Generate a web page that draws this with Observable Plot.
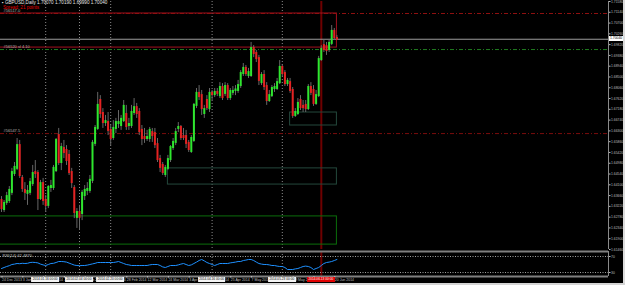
<!DOCTYPE html>
<html><head><meta charset="utf-8">
<script src="https://cdn.jsdelivr.net/npm/d3@7"></script>
<script src="https://cdn.jsdelivr.net/npm/@observablehq/plot@0.6"></script>
<style>
html,body{margin:0;padding:0;background:#000;}
#wrap{position:relative;width:625px;height:285px;background:#000;overflow:hidden;font-family:"Liberation Sans",sans-serif;}
#wrap svg{display:block;}
.ov{position:absolute;white-space:nowrap;line-height:1;}
</style></head><body><div id="wrap"></div>
<script>
// ---------- data ----------
const symbolTitle = "GBPUSD,Daily";
const spreadText = "Spread: 21 points";
const opens = [1.6346,1.6309,1.6338,1.6346,1.6379,1.6456,1.6477,1.6570,1.6436,1.6387,
1.6375,1.6379,1.6415,1.6460,1.6456,1.6354,1.6415,1.6346,1.6326,1.6399,
1.6399,1.6468,1.6611,1.6501,1.6558,1.6550,1.6530,1.6460,1.6395,1.6277,
1.6297,1.6293,1.6366,1.6387,1.6387,1.6428,1.6579,1.6640,1.6754,1.6701,
1.6664,1.6664,1.6632,1.6603,1.6640,1.6660,1.6652,1.6672,1.6697,1.6652,
1.6652,1.6705,1.6725,1.6705,1.6632,1.6603,1.6599,1.6599,1.6623,1.6619,
1.6574,1.6513,1.6489,1.6452,1.6477,1.6513,1.6562,1.6583,1.6640,1.6644,
1.6607,1.6607,1.6579,1.6546,1.6591,1.6734,1.6783,1.6774,1.6701,1.6754,
1.6721,1.6783,1.6778,1.6787,1.6774,1.6807,1.6783,1.6811,1.6766,1.6787,
1.6795,1.6795,1.6815,1.6864,1.6885,1.6856,1.6856,1.6966,1.6946,1.6925,
1.6827,1.6856,1.6811,1.6754,1.6774,1.6803,1.6803,1.6827,1.6889,1.6864,
1.6823,1.6827,1.6795,1.6693,1.6701,1.6754,1.6730,1.6734,1.6721,1.6807,
1.6795,1.6742,1.6774,1.6921,1.6978,1.6974,1.6962,1.6987,1.7036,1.7007];
const highs = [1.6362,1.6346,1.6379,1.6403,1.6477,1.6501,1.6599,1.6591,1.6448,1.6419,
1.6407,1.6436,1.6489,1.6509,1.6468,1.6428,1.6436,1.6366,1.6407,1.6428,
1.6489,1.6599,1.6640,1.6579,1.6591,1.6570,1.6550,1.6477,1.6407,1.6313,
1.6326,1.6387,1.6407,1.6419,1.6448,1.6591,1.6652,1.6787,1.6774,1.6721,
1.6693,1.6705,1.6652,1.6672,1.6681,1.6713,1.6693,1.6754,1.6734,1.6681,
1.6734,1.6762,1.6742,1.6721,1.6652,1.6640,1.6632,1.6644,1.6640,1.6640,
1.6599,1.6530,1.6501,1.6489,1.6530,1.6570,1.6599,1.6640,1.6664,1.6652,
1.6640,1.6632,1.6591,1.6611,1.6742,1.6803,1.6815,1.6795,1.6734,1.6774,
1.6803,1.6795,1.6803,1.6803,1.6827,1.6823,1.6827,1.6823,1.6803,1.6811,
1.6815,1.6836,1.6876,1.6905,1.6897,1.6885,1.6991,1.6978,1.6958,1.6938,
1.6868,1.6876,1.6827,1.6795,1.6815,1.6823,1.6844,1.6917,1.6901,1.6876,
1.6844,1.6844,1.6807,1.6721,1.6762,1.6774,1.6754,1.6754,1.6819,1.6827,
1.6815,1.6795,1.6934,1.6978,1.6999,1.6991,1.6999,1.7060,1.7048,1.7019];
const lows = [1.6297,1.6297,1.6326,1.6334,1.6366,1.6444,1.6468,1.6436,1.6379,1.6346,
1.6326,1.6366,1.6403,1.6436,1.6305,1.6346,1.6326,1.6297,1.6313,1.6379,
1.6387,1.6460,1.6489,1.6468,1.6517,1.6489,1.6448,1.6395,1.6272,1.6232,
1.6224,1.6264,1.6346,1.6366,1.6375,1.6415,1.6566,1.6632,1.6681,1.6640,
1.6648,1.6611,1.6570,1.6591,1.6619,1.6640,1.6632,1.6664,1.6632,1.6632,
1.6640,1.6693,1.6681,1.6611,1.6570,1.6579,1.6587,1.6583,1.6583,1.6558,
1.6501,1.6460,1.6448,1.6440,1.6468,1.6501,1.6550,1.6570,1.6623,1.6591,
1.6591,1.6558,1.6542,1.6538,1.6583,1.6721,1.6754,1.6693,1.6681,1.6713,
1.6705,1.6754,1.6766,1.6770,1.6762,1.6754,1.6770,1.6754,1.6754,1.6774,
1.6774,1.6783,1.6803,1.6852,1.6852,1.6844,1.6848,1.6929,1.6909,1.6815,
1.6815,1.6795,1.6734,1.6746,1.6766,1.6787,1.6795,1.6819,1.6852,1.6811,
1.6811,1.6783,1.6681,1.6685,1.6693,1.6713,1.6705,1.6705,1.6713,1.6774,
1.6730,1.6734,1.6766,1.6913,1.6950,1.6938,1.6950,1.6978,1.6999,1.6999];
const closes = [1.6313,1.6334,1.6362,1.6387,1.6460,1.6481,1.6570,1.6448,1.6395,1.6379,
1.6383,1.6419,1.6456,1.6456,1.6354,1.6415,1.6346,1.6326,1.6399,1.6403,
1.6477,1.6591,1.6501,1.6562,1.6542,1.6509,1.6460,1.6419,1.6297,1.6297,
1.6277,1.6375,1.6387,1.6391,1.6428,1.6579,1.6640,1.6734,1.6701,1.6664,
1.6668,1.6632,1.6599,1.6640,1.6664,1.6664,1.6677,1.6730,1.6648,1.6656,
1.6705,1.6725,1.6701,1.6627,1.6599,1.6599,1.6603,1.6632,1.6611,1.6574,
1.6513,1.6481,1.6460,1.6477,1.6513,1.6562,1.6583,1.6623,1.6644,1.6603,
1.6603,1.6579,1.6554,1.6599,1.6734,1.6783,1.6770,1.6721,1.6717,1.6725,
1.6783,1.6778,1.6787,1.6783,1.6807,1.6766,1.6811,1.6766,1.6791,1.6791,
1.6797,1.6815,1.6864,1.6885,1.6864,1.6868,1.6966,1.6946,1.6925,1.6836,
1.6856,1.6811,1.6754,1.6774,1.6803,1.6807,1.6827,1.6889,1.6864,1.6823,
1.6832,1.6795,1.6693,1.6705,1.6742,1.6725,1.6725,1.6721,1.6807,1.6787,
1.6742,1.6774,1.6921,1.6962,1.6962,1.6958,1.6987,1.7036,1.7011,1.7004];
const rsi = [40,42.5,45,47,50,51,52.5,52,53,52.5,
53,55,55.5,55,54,51,49,47.5,50,52.5,
53,55,57.5,57.5,57,56,53.5,51,48.5,47.5,
47,47.5,47.5,48.5,50,51.5,53,55,55,55,
55,55,55,55,56,57.5,55,52.5,50,49,
47.5,47.5,47.5,47.5,47.5,47.5,47.5,49,50,50,
50,47.5,44,42.5,45,47.5,47.5,47.5,49,51,
52.5,50,47.5,49,52.5,56,60,62.5,59,55,
52.5,50,47.5,50,52.5,52.5,52.5,52.5,54,55,
56,57.5,57.5,60,61,62.5,62.5,60,56,52.5,
51,50,50,49,47.5,47.5,46,45,45,42.5,
37.5,37.5,37.5,39,40,42.5,45,46,45,42.5,
37.5,40,42.5,47.5,52.5,55,56,57.5,60,62.5];
const rsiLabel = "RSI(14) 62.4870";
const rsiLevels = [70, 30];
const rsiDomain = [20, 82.5];
const priceDomain = [1.6146, 1.7158];
const priceTicks = [1.71580,1.71140,1.70700,1.70260,1.69820,1.69380,1.68940,1.68500,1.68060,1.67620,
1.67180,1.66740,1.66300,1.65860,1.65420,1.64980,1.64540,1.64100,1.63660,1.63220,1.62780,1.62340,1.61900,1.61460];
const timeTickIdx = [0,8,16,24,32,40,48,56,64,72,80,88,96,104,112,120,128];
const timeTickLabels = ["24 Dec 2013","3 Jan 2014","15 Jan 2014","27 Jan 2014","6 Feb 2014","18 Feb 2014",
"28 Feb 2014","12 Mar 2014","24 Mar 2014","3 Apr 2014","15 Apr 2014","25 Apr 2014","7 May 2014",
"19 May 2014","29 May 2014","10 Jun 2014","20 Jun 2014"];
const vlineIdx = [17, 30, 42, 81, 108];
const vlineLabels = ["2014.01.16 00:00","2014.02.04 00:00","2014.02.20 00:00","2014.04.16 00:00","2014.05.23 00:00"];
const redLineIdx = 123;
const redLineLabel = "2014.06.13 00:00";
// horizontal objects (prices) and their descriptions
const redLevelTop = 1.7109, greenLevel = 1.6962, redLevelLow = 1.6619;
const lineLabels = [{price:1.7109, label:"#56517.0"},{price:1.6962, label:"#56520 sl 4.10"},{price:1.6619, label:"#56547.5"}];
// rectangles: bar index range and price range
const redBox = {from:-1, to:129, low:1.6970, high:1.7109};
const zoneA = {from:111, to:129, low:1.6652, high:1.6705};
const zoneB = {from:64, to:129, low:1.6411, high:1.6477};
const zoneC = {from:-1, to:129, low:1.6166, high:1.6281};

// ---------- drawing ----------
const n = closes.length;
const candles = closes.map((c,i)=>({i, o:opens[i], h:highs[i], l:lows[i], c}));
const xDomain = [-0.385, 233.46];
const PW = 625, axisW = 17;
const bull = "#2ee62e", bear = "#e52222", wick = "#666666";
const font = "Liberation Sans, sans-serif";
const dotted = {stroke:"#8c8c8c", strokeDasharray:"1,2"};
const redV = {stroke:"#6e0000", strokeWidth:2};

const main = Plot.plot({
  width: PW, height: 250, marginTop: 1, marginBottom: 1, marginLeft: 0, marginRight: axisW,
  style: {background:"#000", color:"#c0c0c0", fontFamily:font, fontSize:"4px", overflow:"visible"},
  x: {domain: xDomain, axis: null},
  y: {domain: priceDomain, axis: null},
  marks: [
    Plot.ruleX(vlineIdx, dotted),
    Plot.ruleX([redLineIdx], redV),
    Plot.rect([zoneC], {x1:"from", x2:"to", y1:"low", y2:"high", fill:"none", stroke:"#0b6e0b"}),
    Plot.rect([zoneB], {x1:"from", x2:"to", y1:"low", y2:"high", fill:"none", stroke:"#24483c"}),
    Plot.rect([zoneA], {x1:"from", x2:"to", y1:"low", y2:"high", fill:"none", stroke:"#24483c"}),
    Plot.ruleY([redLevelLow], {stroke:"#7a0c0c", strokeDasharray:"4,2,1,2"}),
    Plot.ruleY([greenLevel], {stroke:"#1f7a1f", strokeDasharray:"4,2,1,2"}),
    Plot.rect([redBox], {x1:"from", x2:"to", y1:"low", y2:"high", fill:"none", stroke:"#a3101e"}),
    Plot.ruleY([redLevelTop], {stroke:"#8e1010", strokeDasharray:"4,2,1,2"}),
    Plot.ruleY([closes[n-1]], {stroke:"#9c9c9c"}),
    Plot.text(lineLabels, {y:"price", text:"label", frameAnchor:"left", dx:3, dy:-3, textAnchor:"start", fill:"#b4b4b4", fontSize:4}),
    Plot.ruleX(candles, {x:"i", y1:"l", y2:"h", stroke:wick}),
    Plot.ruleX(candles, {x:"i", y1:"o", y2:"c", stroke:d => d.c >= d.o ? bull : bear, strokeWidth:2, strokeLinecap:"square"}),
    Plot.ruleX([xDomain[1]], {stroke:"#8a8a8a"}),
    Plot.axisY(priceTicks, {anchor:"right", tickSize:1.5, tickPadding:1, tickFormat:d => d.toFixed(5), color:"#bcbcbc", fontSize:3.4})
  ]
});

const ind = Plot.plot({
  width: PW, height: 35, marginTop: 1, marginBottom: 9, marginLeft: 0, marginRight: axisW,
  style: {background:"#000", color:"#c0c0c0", fontFamily:font, fontSize:"4px", overflow:"visible"},
  x: {domain: xDomain, axis: null},
  y: {domain: rsiDomain, axis: null},
  marks: [
    Plot.ruleX(vlineIdx, dotted),
    Plot.ruleX([redLineIdx], redV),
    Plot.ruleY(rsiLevels, {stroke:"#a0a0a0", strokeDasharray:"1,1.5"}),
    Plot.lineY(rsi, {stroke:"#1e90ff", strokeWidth:1}),
    Plot.ruleY(rsiDomain, {stroke:"#808080", strokeWidth:2}),
    Plot.ruleX([xDomain[1]], {stroke:"#8a8a8a"}),
    Plot.text([rsiLabel], {frameAnchor:"top-left", dx:2, dy:2.5, textAnchor:"start", fill:"#c0c0c0", fontSize:4}),
    Plot.axisY(rsiLevels, {anchor:"right", tickSize:1.5, tickPadding:1, color:"#bcbcbc", fontSize:3.4}),
    Plot.axisX(timeTickIdx, {anchor:"bottom", tickSize:1.5, tickPadding:0.5, textAnchor:"start", dx:0.5,
      tickFormat:d => timeTickLabels[timeTickIdx.indexOf(d)], color:"#bcbcbc", fontSize:3.5})
  ]
});

const wrap = document.getElementById("wrap");
wrap.appendChild(main);
wrap.appendChild(ind);

function ov(text, css){
  const d = document.createElement("div");
  d.className = "ov";
  d.textContent = text;
  Object.assign(d.style, css);
  wrap.appendChild(d);
  return d;
}
const xs = main.scale("x"), ys = main.scale("y");
const f5 = v => v.toFixed(5);
ov("\u25AA " + symbolTitle + "  " + [opens[n-1], highs[n-1], lows[n-1], closes[n-1]].map(f5).join(" "),
   {left:"2px", top:"1px", color:"#e6e6e6", fontSize:"4.6px"});
ov(spreadText, {left:"3px", top:"5.5px", color:"#e00000", fontSize:"4.6px"});
// current price box on the price axis
ov(f5(closes[n-1]), {left:(xs.apply(xDomain[1]) + 1) + "px", top:(ys.apply(closes[n-1]) - 2.5) + "px",
   background:"#ffffff", color:"#000", fontSize:"3.4px", padding:"0.8px 1px"});
// date boxes of the vertical lines on the time axis
const boxTop = 250 + 27;
vlineIdx.forEach((v,k) => {
  ov(vlineLabels[k], {left:xs.apply(v) + "px", top:boxTop + "px", transform:"translateX(-50%)",
     background:"#f4f4f4", color:"#000", fontSize:"3.2px", padding:"0.8px 1.5px"});
});
ov(redLineLabel, {left:xs.apply(redLineIdx) + "px", top:boxTop + "px", transform:"translateX(-50%)",
   background:"#e00000", color:"#fff", fontSize:"3.2px", padding:"0.8px 1.5px"});
// window chrome: right border strip and bottom tab strip
ov("", {left:"622.5px", top:"0px", width:"2.5px", height:"285px", background:"#dcdcdc"});
ov("", {left:"0px", top:"282.5px", width:"625px", height:"3px", background:"#d4d4d4"});
</script></body></html>
